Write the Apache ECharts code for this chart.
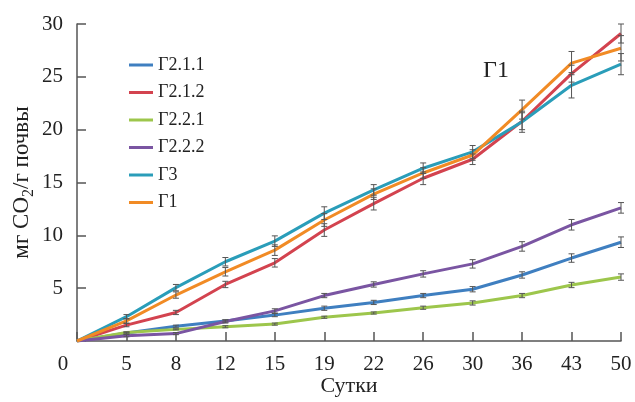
<!DOCTYPE html>
<html><head><meta charset="utf-8">
<script src="https://cdn.jsdelivr.net/npm/echarts@6/dist/echarts.min.js"></script>
<style>html,body{margin:0;padding:0;background:#fff}#c{width:635px;height:402px}</style>
</head><body><div id="c"></div>
<script>
const days = ['0','5','8','12','15','19','22','26','30','36','43','50'];
const seriesNames = ['Г2.1.1','Г2.1.2','Г2.2.1','Г2.2.2','Г3','Г1'];
const g211 = [0,0.75,1.4,1.9,2.45,3.1,3.65,4.3,4.9,6.25,7.85,9.35];
const g212 = [0,1.5,2.7,5.35,7.4,10.5,13.0,15.4,17.2,20.8,25.3,29.1];
const g221 = [0,0.8,1.1,1.35,1.6,2.25,2.65,3.15,3.6,4.3,5.3,6.05];
const g222 = [0,0.5,0.7,1.85,2.85,4.3,5.35,6.35,7.3,8.95,11.0,12.6];
const g3   = [0,2.3,5.05,7.5,9.45,12.1,14.3,16.35,17.9,20.75,24.2,26.2];
const g1   = [0,1.9,4.35,6.55,8.6,11.45,13.9,15.9,17.6,21.9,26.3,27.7];
const e211 = [0,0.1,0.1,0.1,0.15,0.2,0.2,0.2,0.25,0.3,0.4,0.5];
const e212 = [0,0.15,0.2,0.3,0.4,0.6,0.6,0.6,0.5,0.8,0.8,0.9];
const e221 = [0,0.05,0.05,0.1,0.1,0.1,0.1,0.15,0.2,0.2,0.25,0.3];
const e222 = [0,0.1,0.1,0.15,0.2,0.2,0.25,0.3,0.4,0.45,0.5,0.5];
const e3   = [0,0.2,0.3,0.4,0.5,0.6,0.5,0.5,0.6,1.0,1.2,1.0];
const e1   = [0,0.2,0.3,0.4,0.5,0.6,0.5,0.5,0.5,0.9,1.1,1.2];
const colors = ['#3f7fc0','#d3434f','#9dc64c','#7a55a2','#2a9db9','#f18b25'];
const values = [g211,g212,g221,g222,g3,g1];
const errors = [e211,e212,e221,e222,e3,e1];
const FONT = '"Liberation Serif", "Times New Roman", serif';

const chart = echarts.init(document.getElementById('c'));
const series = [];
values.forEach((v,k)=>{
  series.push({
    name: seriesNames[k], type:'line', data:v, symbol:'none',
    lineStyle:{width:3,color:colors[k]}, itemStyle:{color:colors[k]}, z:2
  });
});
values.forEach((v,k)=>{
  const data = v.map((y,i)=>[i,y-errors[k][i],y+errors[k][i]]);
  series.push({
    type:'custom', data:data, z:3, silent:true,
    renderItem:(params,api)=>{
      const lo = api.coord([api.value(0),api.value(1)]);
      const hi = api.coord([api.value(0),api.value(2)]);
      if (hi[1] >= lo[1]-0.5) return null;
      const w = 3;
      const st = {stroke:'#555',lineWidth:1};
      return {type:'group',children:[
        {type:'line',shape:{x1:lo[0],y1:lo[1],x2:hi[0],y2:hi[1]},style:st},
        {type:'line',shape:{x1:lo[0]-w,y1:lo[1],x2:lo[0]+w,y2:lo[1]},style:st},
        {type:'line',shape:{x1:hi[0]-w,y1:hi[1],x2:hi[0]+w,y2:hi[1]},style:st}
      ]};
    },
    encode:{x:0,y:[1,2]}
  });
});

chart.setOption({
  animation:false,
  backgroundColor:'#fff',
  grid:{left:77,right:14,top:24,bottom:61,outerBoundsMode:'none',containLabel:false},
  legend:{
    data:seriesNames, orient:'vertical', left:124, top:51,
    icon:'rect', itemWidth:24, itemHeight:3, itemGap:9.5,
    textStyle:{fontFamily:FONT,fontSize:18,color:'#222',lineHeight:17}
  },
  graphic:[{type:'text',left:483,top:59,style:{text:'Г1',font:'24px '+FONT,fill:'#222'}}],
  xAxis:{
    type:'category', data:days, boundaryGap:false,
    name:'Сутки', nameLocation:'middle', nameGap:34, nameMoveOverlap:false,
    nameTextStyle:{fontFamily:FONT,fontSize:22,color:'#222'},
    axisLine:{lineStyle:{color:'#555',width:1.5}},
    axisTick:{inside:true,length:9,interval:0,lineStyle:{color:'#555',width:1.5},alignWithLabel:true},
    axisLabel:{fontFamily:FONT,fontSize:21,color:'#222',margin:13,interval:0,
      formatter:(v,i)=> i===0 ? '{z|0}' : v,
      rich:{z:{fontFamily:FONT,fontSize:21,color:'#222',padding:[0,28,0,0]}}}
  },
  yAxis:{
    type:'value', min:0, max:30, interval:5,
    name:'{a|мг CO}{s|2}{a|/г почвы}', nameLocation:'middle', nameGap:40, nameRotate:90, nameMoveOverlap:false,
    nameTextStyle:{rich:{a:{fontFamily:FONT,fontSize:23,color:'#222',lineHeight:30,verticalAlign:'middle'},
                         s:{fontFamily:FONT,fontSize:16,color:'#222',lineHeight:30,verticalAlign:'bottom'}}},
    splitLine:{show:false},
    axisLine:{show:true,lineStyle:{color:'#555',width:1.5}},
    axisTick:{show:true,inside:true,length:9,lineStyle:{color:'#555',width:1.5}},
    axisLabel:{fontFamily:FONT,fontSize:21,color:'#222',margin:14,
      formatter:v=> v===0 ? '' : String(v)}
  },
  series:series
});
</script></body></html>
